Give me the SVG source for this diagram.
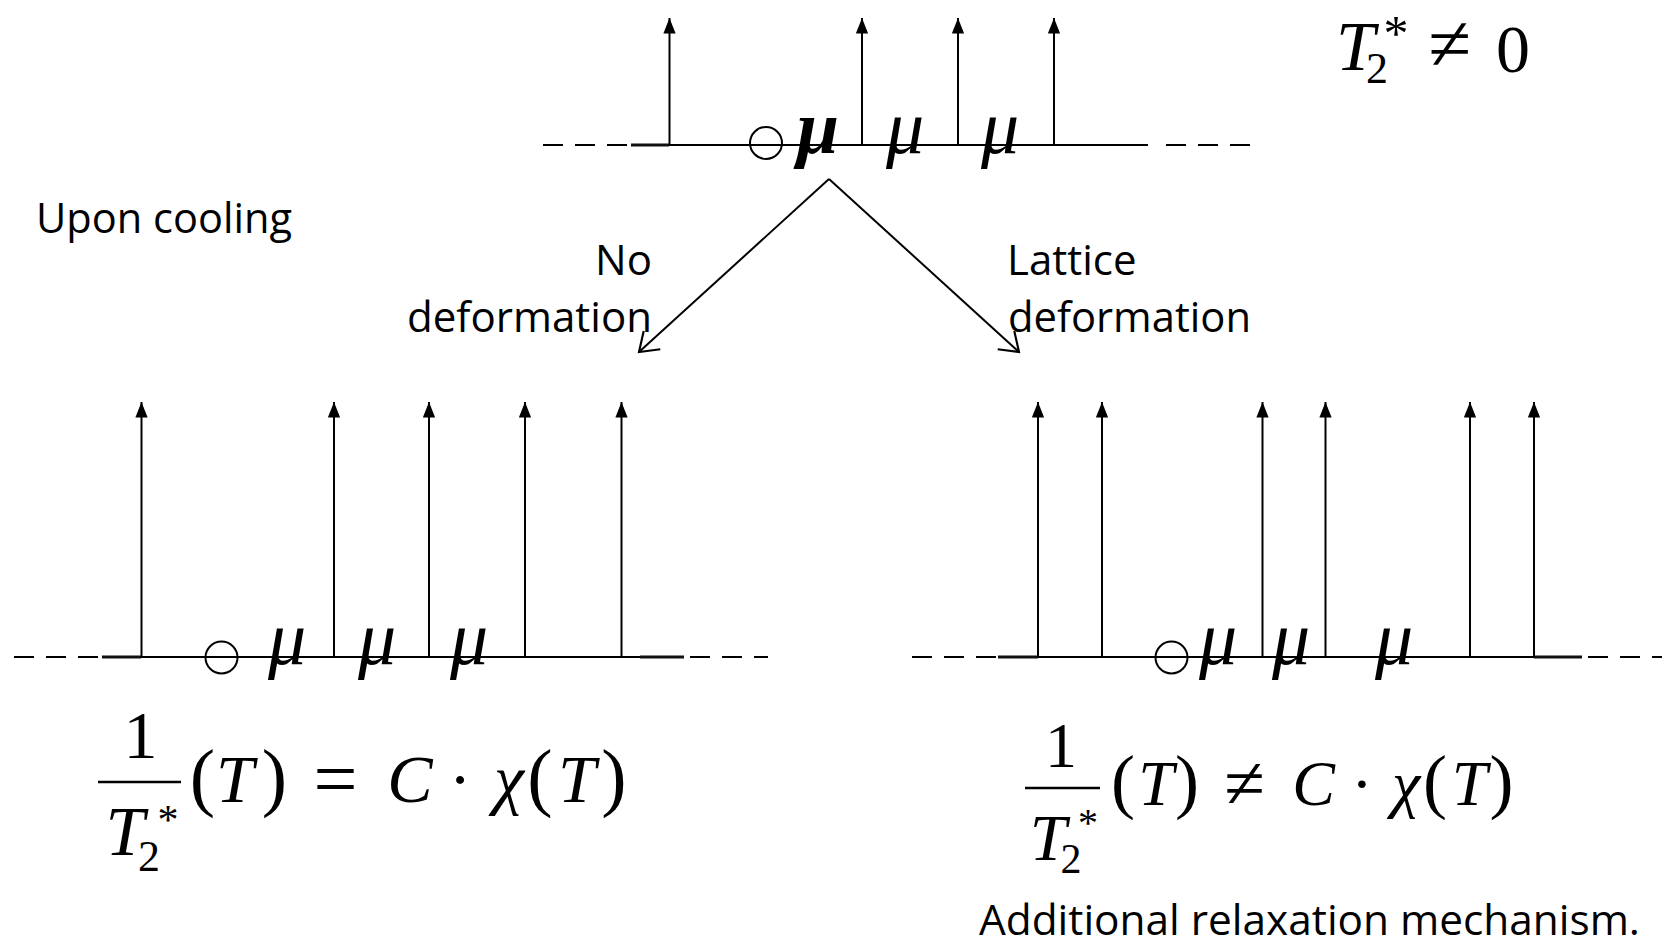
<svg xmlns="http://www.w3.org/2000/svg" width="1669" height="945" viewBox="0 0 1669 945">
<defs>
<style>
.ln{stroke:#000;stroke-width:2;fill:none}
.dash{stroke:#000;stroke-width:2;fill:none;stroke-dasharray:20 12}
.thick{stroke:#111;stroke-width:3.2;fill:none}
.va{stroke:#000;stroke-width:2;fill:none;marker-end:url(#tri)}
.conn{stroke:#000;stroke-width:2;fill:none;marker-end:url(#vee)}
.ring{stroke:#000;stroke-width:2;fill:none}
.mu{font-family:"Liberation Serif",serif;font-style:italic;font-size:76px;fill:#000;text-anchor:middle}
.m{font-family:"Liberation Serif",serif;font-size:68px;fill:#000;text-anchor:middle}
.p{font-family:"Liberation Serif",serif;font-size:76px;fill:#000;text-anchor:middle}
.rel{font-family:"Liberation Serif",serif;font-size:78px;fill:#000;text-anchor:middle}
.mi{font-family:"Liberation Serif",serif;font-style:italic;font-size:68px;fill:#000;text-anchor:middle}
.sub{font-style:normal;font-size:44px}
.star{font-style:normal;font-size:42px}
.lbl{font-family:"Open Sans","Noto Sans",sans-serif;font-size:42px;fill:#000}
</style>
<marker id="tri" markerUnits="userSpaceOnUse" markerWidth="20" markerHeight="20" viewBox="-16 -8 18 16" refX="0" refY="0" orient="auto">
<path d="M0,0 L-14,-5.5 L-14,5.5 Z" fill="#000"/>
</marker>
<marker id="vee" markerUnits="userSpaceOnUse" markerWidth="30" markerHeight="30" viewBox="-20 -14 22 28" refX="0" refY="0" orient="auto">
<path d="M-16.4,-11.5 L0,0 L-16.4,11.5" fill="none" stroke="#000" stroke-width="2"/>
</marker>
</defs>
<rect width="1669" height="945" fill="#fff"/>

<g id="top-chain">
<line class="dash" x1="543" y1="145" x2="631" y2="145"/>
<line class="thick" x1="631" y1="145" x2="669" y2="145"/>
<line class="ln" x1="669" y1="145" x2="1148" y2="145"/>
<line class="dash" x1="1166" y1="145" x2="1262" y2="145"/>
<line class="va" x1="669.5" y1="145" x2="669.5" y2="18"/>
<line class="va" x1="862" y1="145" x2="862" y2="18"/>
<line class="va" x1="958" y1="145" x2="958" y2="18"/>
<line class="va" x1="1054" y1="145" x2="1054" y2="18"/>
<circle class="ring" cx="766" cy="143" r="16"/>
<text class="mu" x="818" y="153" font-weight="bold">μ</text>
<text class="mu" x="905" y="153">μ</text>
<text class="mu" x="1000" y="153">μ</text>
</g>

<g id="t2-label">
<text class="mi" style="font-size:70px"><tspan x="1355.5" y="70">T</tspan><tspan class="sub" x="1377" y="83">2</tspan><tspan class="star" x="1396" y="50" style="font-size:50px">*</tspan></text>
<text class="rel" x="1450" y="70">≠</text>
<text class="m" x="1513" y="72">0</text>
</g>

<g id="upon-cooling">
<text class="lbl" x="36" y="233" textLength="256" lengthAdjust="spacingAndGlyphs">Upon cooling</text>
</g>

<g id="connectors">
<line class="conn" x1="829" y1="179" x2="639" y2="352"/>
<line class="conn" x1="829" y1="179" x2="1019" y2="352"/>
</g>

<g id="label-no-deformation">
<text class="lbl" x="652" y="275" text-anchor="end">No</text>
<text class="lbl" x="652" y="332" text-anchor="end" textLength="245" lengthAdjust="spacingAndGlyphs">deformation</text>
</g>

<g id="label-lattice-deformation">
<text class="lbl" x="1007" y="275">Lattice</text>
<text class="lbl" x="1008" y="332" textLength="243" lengthAdjust="spacingAndGlyphs">deformation</text>
</g>

<g id="left-chain">
<line class="dash" x1="14" y1="657" x2="102" y2="657"/>
<line class="thick" x1="102" y1="657" x2="141" y2="657"/>
<line class="ln" x1="141" y1="657" x2="640" y2="657"/>
<line class="thick" x1="640" y1="657" x2="684" y2="657"/>
<line class="dash" x1="690" y1="657" x2="768" y2="657"/>
<line class="va" x1="141.5" y1="657" x2="141.5" y2="402"/>
<line class="va" x1="334" y1="657" x2="334" y2="402"/>
<line class="va" x1="429" y1="657" x2="429" y2="402"/>
<line class="va" x1="525" y1="657" x2="525" y2="402"/>
<line class="va" x1="621.5" y1="657" x2="621.5" y2="402"/>
<circle class="ring" cx="221.5" cy="657.5" r="16"/>
<text class="mu" x="287" y="664">μ</text>
<text class="mu" x="377" y="664">μ</text>
<text class="mu" x="469" y="664">μ</text>
</g>

<g id="right-chain">
<line class="dash" x1="912" y1="657" x2="998" y2="657"/>
<line class="thick" x1="998" y1="657" x2="1038" y2="657"/>
<line class="ln" x1="1038" y1="657" x2="1534" y2="657"/>
<line class="thick" x1="1534" y1="657" x2="1582" y2="657"/>
<line class="dash" x1="1588" y1="657" x2="1662" y2="657"/>
<line class="va" x1="1038" y1="657" x2="1038" y2="402"/>
<line class="va" x1="1102" y1="657" x2="1102" y2="402"/>
<line class="va" x1="1262.5" y1="657" x2="1262.5" y2="402"/>
<line class="va" x1="1325.5" y1="657" x2="1325.5" y2="402"/>
<line class="va" x1="1470" y1="657" x2="1470" y2="402"/>
<line class="va" x1="1534" y1="657" x2="1534" y2="402"/>
<circle class="ring" cx="1171.5" cy="657.5" r="16"/>
<text class="mu" x="1218" y="664">μ</text>
<text class="mu" x="1291" y="664">μ</text>
<text class="mu" x="1394" y="664">μ</text>
</g>

<g id="formula-left">
<text class="m" x="140.5" y="758">1</text>
<line x1="98" y1="782" x2="181" y2="782" stroke="#000" stroke-width="2.6"/>
<text class="mi" style="font-size:70px"><tspan x="125" y="855">T</tspan><tspan class="sub" x="149" y="871">2</tspan><tspan class="star" x="168" y="834">*</tspan></text>
<text class="p" x="202.5" y="802">(</text>
<text class="mi" x="235" y="802">T</text>
<text class="p" x="274.5" y="802">)</text>
<text class="rel" x="335.5" y="805">=</text>
<text class="mi" x="410" y="802">C</text>
<text class="m" x="460" y="802">·</text>
<text class="mi" x="509" y="802">χ</text>
<text class="p" x="540" y="802">(</text>
<text class="mi" x="577" y="802">T</text>
<text class="p" x="614" y="802">)</text>
</g>

<g id="formula-right">
<text class="m" x="1061" y="767" style="font-size:64px">1</text>
<line x1="1025" y1="788" x2="1100" y2="788" stroke="#000" stroke-width="2.6"/>
<text class="mi" style="font-size:66px"><tspan x="1048" y="860">T</tspan><tspan class="sub" x="1071" y="873" style="font-size:42px">2</tspan><tspan class="star" x="1088" y="836" style="font-size:40px">*</tspan></text>
<text class="p" x="1123" y="805" style="font-size:72px">(</text>
<text class="mi" x="1156" y="805" style="font-size:64px">T</text>
<text class="p" x="1187" y="805" style="font-size:72px">)</text>
<text class="rel" x="1244.5" y="808" style="font-size:74px">≠</text>
<text class="mi" x="1313.5" y="805" style="font-size:64px">C</text>
<text class="m" x="1362" y="805" style="font-size:64px">·</text>
<text class="mi" x="1406" y="805" style="font-size:64px">χ</text>
<text class="p" x="1435" y="805" style="font-size:72px">(</text>
<text class="mi" x="1469.5" y="805" style="font-size:64px">T</text>
<text class="p" x="1501.5" y="805" style="font-size:72px">)</text>
</g>

<g id="caption">
<text class="lbl" x="979" y="935" textLength="661" lengthAdjust="spacingAndGlyphs">Additional relaxation mechanism.</text>
</g>
</svg>
